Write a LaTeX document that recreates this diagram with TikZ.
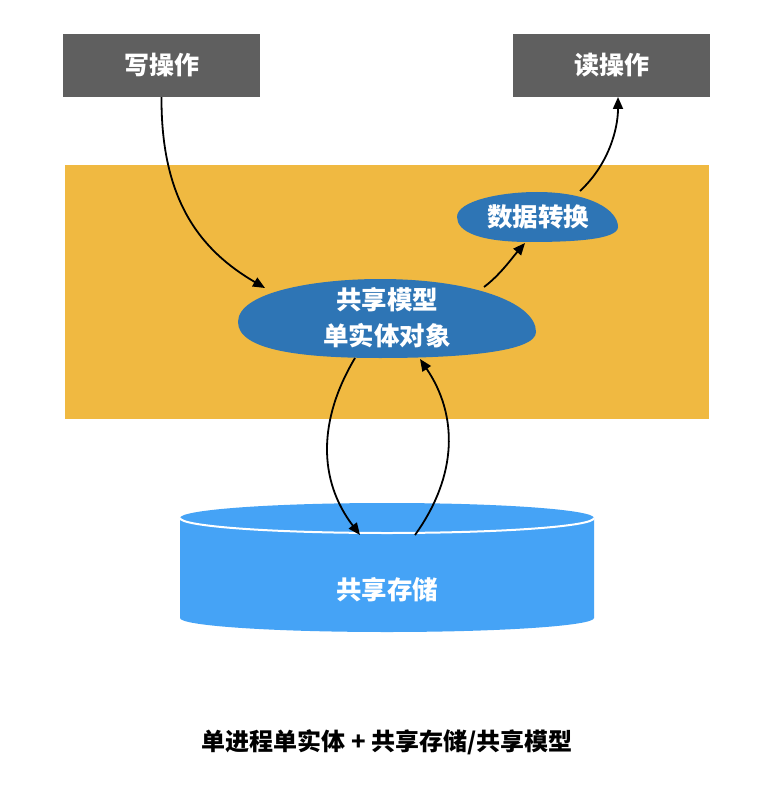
\documentclass[tikz,border=0pt]{standalone}
\usepackage{fontspec}
\newfontfamily\cjk{Noto Sans CJK SC}
\usetikzlibrary{arrows.meta}
\definecolor{boxgray}{HTML}{5F5F5F}
\definecolor{bandorange}{HTML}{F0B941}
\definecolor{blobblue}{HTML}{2E75B5}
\definecolor{cylblue}{HTML}{45A3F6}
\tikzset{
  opbox/.style={fill=boxgray, minimum width=197pt, minimum height=63pt, inner sep=0pt, text=white, font=\cjk\bfseries\fontsize{25}{30}\selectfont},
  wtext/.style={text=white, font=\cjk\bfseries\fontsize{25.5}{36}\selectfont, align=center},
  conn/.style={line width=1.8pt, -{Triangle[length=12pt,width=10pt]}},
}
\begin{document}
\begin{tikzpicture}[x=1pt,y=-1pt]
\useasboundingbox[fill=white] (0,0) rectangle (774,810);
% orange band
\fill[bandorange] (65,165) rectangle (709,419);
% boxes
\node[opbox] (write) at (161.5,65.5) {写操作};
\node[opbox] (read) at (611.5,65.5) {读操作};
% big blob
\fill[blobblue] (238,322) .. controls (238,292) and (315,279) .. (380,279) .. controls (470,279) and (536,302) .. (536,332)
  .. controls (536,352) and (460,358) .. (380,358) .. controls (300,358) and (238,350) .. (238,322) -- cycle;
\node[wtext] (model) at (387,318) {共享模型\\单实体对象};
% small blob
\fill[blobblue] (457,217) .. controls (457,201) and (500,192) .. (537,192) .. controls (590,192) and (618,210) .. (618,227)
  .. controls (618,240) and (570,242) .. (530,242) .. controls (480,242) and (457,232) .. (457,217) -- cycle;
\node[wtext] (conv) at (538,217) {数据转换};
% cylinder
\fill[cylblue] (180,518) -- (180,618) arc[start angle=180, end angle=0, x radius=207, y radius=14] -- (594,518) -- cycle;
\fill[cylblue] (387,518) ellipse[x radius=207, y radius=15];
\draw[white, line width=2pt] (180,518) arc[start angle=180, end angle=0, x radius=207, y radius=15];
\node[wtext] (store) at (387,590) {共享存储};
% caption
\node[font=\cjk\bfseries\fontsize{24}{28}\selectfont] (caption) at (387,742) {单进程单实体 + 共享存储/共享模型};
% connector endpoints
\coordinate (wIn) at (265,288);
\coordinate (mOut) at (484,287);
\coordinate (cIn) at (525,243);
\coordinate (cOut) at (580,191);
\coordinate (rIn) at (618,97);
\coordinate (mBot) at (355,358);
\coordinate (sIn) at (360,535);
\coordinate (sOut) at (415,535);
\coordinate (mIn) at (420,359);
% connectors
\draw[conn] (write.south) .. controls (161,200) and (200,250) .. (wIn);
\draw[conn] (mOut) .. controls (500,275) and (512,258) .. (cIn);
\draw[conn] (cOut) .. controls (608,165) and (618,130) .. (rIn);
\draw[conn] (mBot) .. controls (318,420) and (318,480) .. (sIn);
\draw[conn] (sOut) .. controls (458,475) and (458,415) .. (mIn);
\end{tikzpicture}
\end{document}
